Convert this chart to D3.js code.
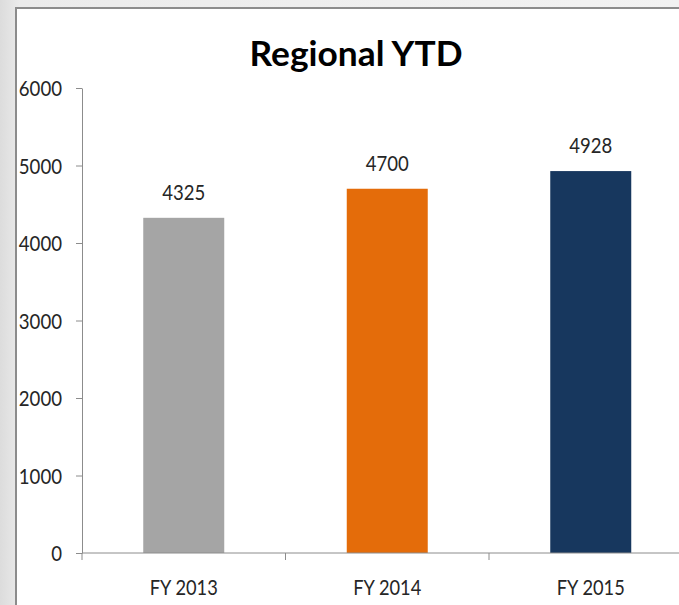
<!DOCTYPE html>
<html>
<head>
<meta charset="utf-8">
<script src="https://cdn.jsdelivr.net/npm/d3@7"></script>
<style>
html,body{margin:0;padding:0;overflow:hidden;background:#fff;}
svg{display:block;}
text{font-family:Lato, "Open Sans", sans-serif;}
</style>
</head>
<body>
<svg id="chart" width="679" height="605"></svg>
<script>
const title = "Regional YTD";
const categories = ["FY 2013", "FY 2014", "FY 2015"];
const values = [4325, 4700, 4928];
const colors = ["#a5a5a5", "#e46c0a", "#17375e"];
const yTicks = [0, 1000, 2000, 3000, 4000, 5000, 6000];

const svg = d3.select("#chart");
const W = 679, H = 605;

// background gradient
const defs = svg.append("defs");
const g1 = defs.append("linearGradient").attr("id","bg").attr("x1","0").attr("y1","0").attr("x2","1").attr("y2","0");
g1.append("stop").attr("offset","0").attr("stop-color","#dcdcdc");
g1.append("stop").attr("offset","0.03").attr("stop-color","#ebebeb");
g1.append("stop").attr("offset","1").attr("stop-color","#f2f2f2");
svg.append("rect").attr("width",W).attr("height",H).attr("fill","url(#bg)");

// panel
svg.append("rect").attr("x",16).attr("y",8).attr("width",W+20).attr("height",H+20)
  .attr("fill","#fff").attr("stroke","#8c8c8c").attr("stroke-width",2);

const plot = {left:82, right:692.5, top:88, bottom:553};
const x = d3.scaleBand().domain(categories).range([plot.left, plot.right]).paddingInner(0.602).paddingOuter(0.301);
const y = d3.scaleLinear().domain([0,6000]).range([plot.bottom, plot.top]);

// title
svg.append("text").attr("x",356).attr("y",66).attr("text-anchor","middle")
  .attr("font-size",35).attr("font-weight","bold").attr("fill","#000")
  .attr("textLength",213).attr("lengthAdjust","spacingAndGlyphs").text(title);

// bars
svg.append("g").selectAll("rect").data(values).join("rect")
  .attr("x",(d,i)=>x(categories[i]))
  .attr("width",x.bandwidth())
  .attr("y",d=>y(d))
  .attr("height",d=>y(0)-y(d))
  .attr("fill",(d,i)=>colors[i]);

// value labels
svg.append("g").selectAll("text").data(values).join("text")
  .attr("x",(d,i)=>x(categories[i])+x.bandwidth()/2)
  .attr("y",d=>y(d)-18)
  .attr("text-anchor","middle").attr("font-size",21).attr("fill","#262626")
  .attr("textLength",43).attr("lengthAdjust","spacingAndGlyphs")
  .text(d=>d);

// y axis
const yAxis = d3.axisLeft(y).tickValues(yTicks).tickSize(6).tickSizeOuter(0).tickPadding(14).tickFormat(d3.format("d"));
const ya = svg.append("g").attr("transform",`translate(${plot.left},0)`).call(yAxis);
ya.select(".domain").attr("stroke","#8c8c8c");
ya.selectAll(".tick line").attr("stroke","#8c8c8c");
ya.selectAll(".tick text").attr("font-size",21).attr("fill","#262626").attr("font-family","Lato, sans-serif").attr("dy","0.36em")
  .attr("textLength",d=>String(d).length*10.8).attr("lengthAdjust","spacingAndGlyphs");

// x axis
const xa = svg.append("g").attr("transform",`translate(0,${plot.bottom})`);
xa.append("line").attr("x1",plot.left).attr("x2",W).attr("stroke","#8c8c8c");
const boundaries = [plot.left, ...categories.slice(1).map(c=>x(c)-x.step()*x.paddingInner()/2)];
xa.selectAll("line.tk").data(boundaries).join("line").attr("class","tk")
  .attr("x1",d=>d).attr("x2",d=>d).attr("y1",0).attr("y2",7).attr("stroke","#8c8c8c");
xa.selectAll("text").data(categories).join("text")
  .attr("x",d=>x(d)+x.bandwidth()/2).attr("y",42)
  .attr("text-anchor","middle").attr("font-size",21).attr("fill","#262626")
  .attr("textLength",68).attr("lengthAdjust","spacingAndGlyphs").text(d=>d);
</script>
</body>
</html>
